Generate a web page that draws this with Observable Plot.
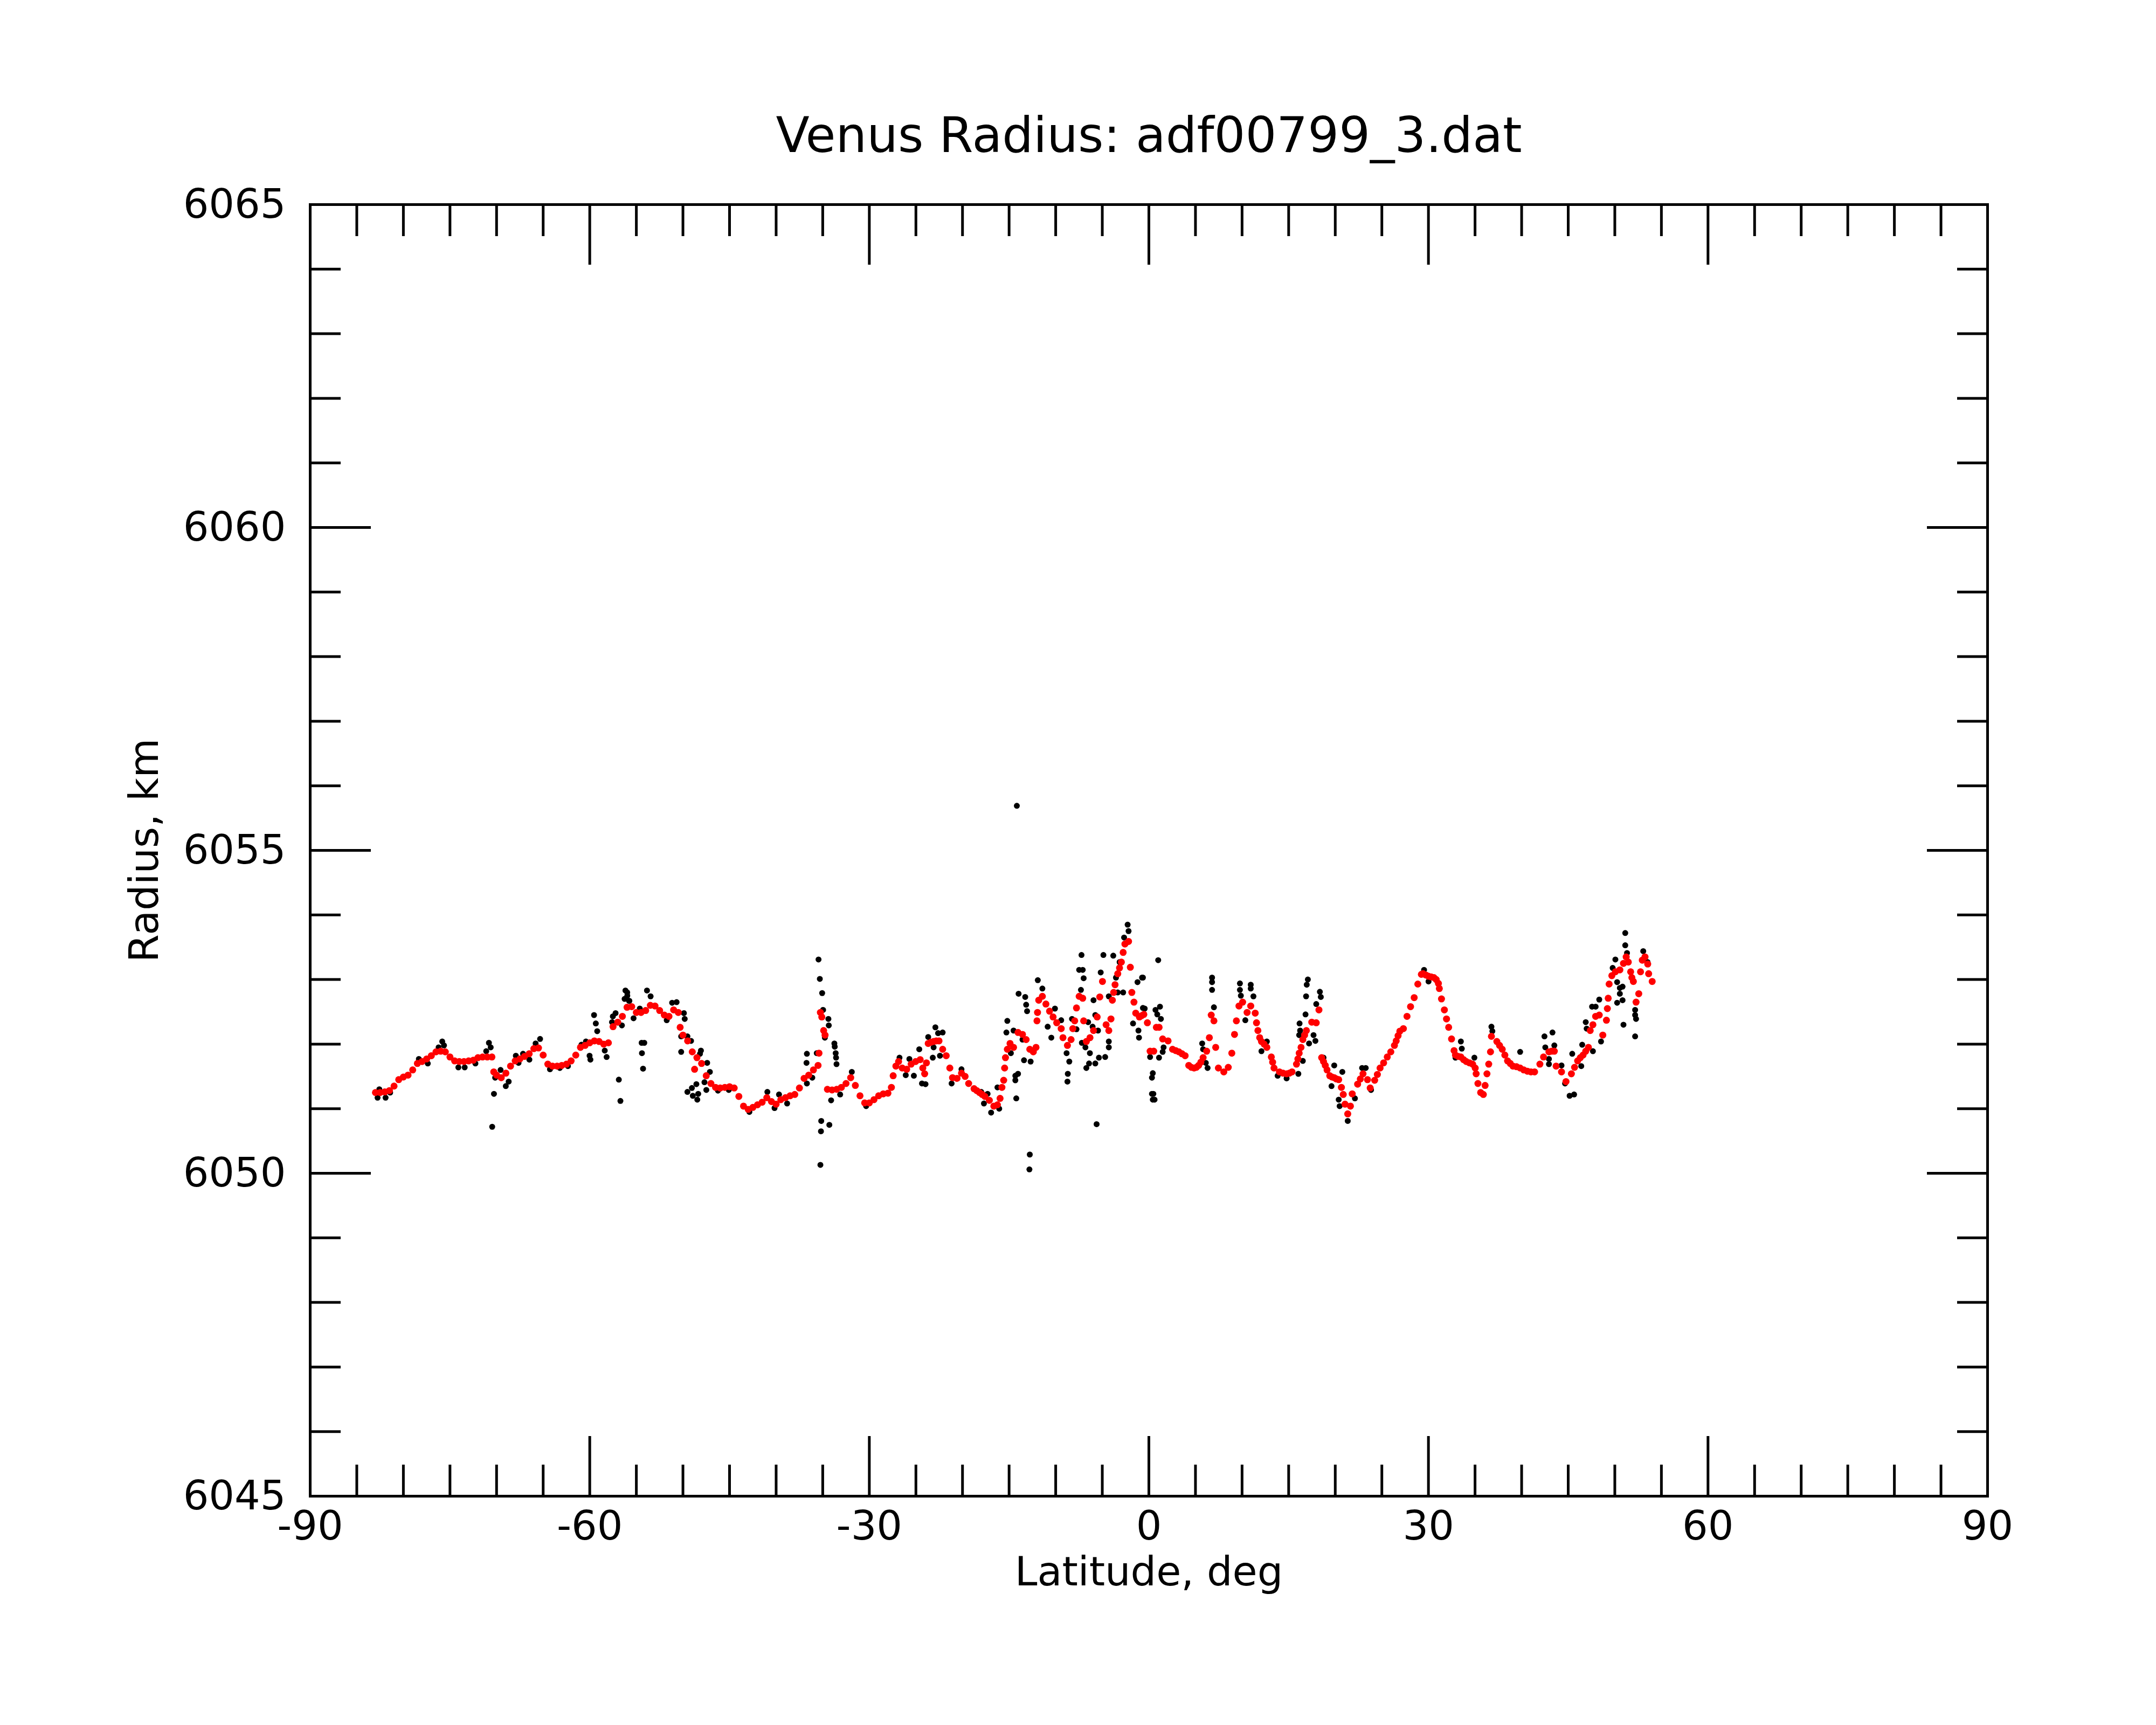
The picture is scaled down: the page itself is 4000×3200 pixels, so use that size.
<!DOCTYPE html>
<html>
<head>
<meta charset="utf-8">
<script src="https://cdn.jsdelivr.net/npm/d3@7"></script>
<script src="https://cdn.jsdelivr.net/npm/@observablehq/plot@0.6"></script>
<style>
html, body { margin: 0; padding: 0; background: #ffffff; }
</style>
</head>
<body>
<div id="chart"></div>
<script>
// ---- texts ----
const titleText = "Venus Radius: adf00799_3.dat";
const xLabelText = "Latitude, deg";
const yLabelText = "Radius, km";

// ---- ticks ----
const xMajorTicks = [-90, -60, -30, 0, 30, 60, 90];
const xMinorTicks = [-85, -80, -75, -70, -65, -55, -50, -45, -40, -35, -25, -20, -15, -10, -5,
                     5, 10, 15, 20, 25, 35, 40, 45, 50, 55, 65, 70, 75, 80, 85];
const yMajorTicks = [6045, 6050, 6055, 6060, 6065];
const yMinorTicks = [6046, 6047, 6048, 6049, 6051, 6052, 6053, 6054, 6056, 6057, 6058, 6059,
                     6061, 6062, 6063, 6064];

// ---- filtered (red) series: [latitude deg, radius km] ----
const redSeries = [
[-83.0,6051.25],[-82.5,6051.25],[-82.0,6051.26],[-81.5,6051.28],[-81.0,6051.35],[-80.5,6051.45],
[-80.0,6051.49],[-79.5,6051.52],[-79.0,6051.60],[-78.5,6051.70],[-78.0,6051.73],[-77.5,6051.77],
[-77.0,6051.82],[-76.5,6051.88],[-76.0,6051.89],[-75.5,6051.88],[-75.0,6051.80],[-74.5,6051.74],
[-74.0,6051.73],[-73.5,6051.73],[-73.0,6051.74],[-72.5,6051.75],[-72.0,6051.79],[-71.5,6051.80],
[-71.0,6051.80],[-70.5,6051.80],[-70.3,6051.57],[-70.0,6051.52],[-69.5,6051.48],[-69.0,6051.55],
[-68.5,6051.66],[-68.0,6051.74],[-67.5,6051.77],[-67.0,6051.81],[-66.5,6051.85],[-66.0,6051.93],
[-65.5,6051.94],[-65.0,6051.83],[-64.5,6051.69],[-64.0,6051.66],[-63.5,6051.66],[-63.0,6051.67],
[-62.5,6051.69],[-62.0,6051.74],[-61.5,6051.83],[-61.0,6051.95],[-60.5,6051.98],[-60.0,6052.02],
[-59.5,6052.05],[-59.0,6052.04],[-58.5,6052.00],[-58.0,6052.02],[-57.5,6052.27],[-57.0,6052.34],
[-56.5,6052.43],[-56.0,6052.57],[-55.5,6052.58],[-55.0,6052.49],[-54.5,6052.49],[-54.0,6052.52],
[-53.5,6052.60],[-53.0,6052.59],[-52.5,6052.52],[-52.0,6052.45],[-51.5,6052.43],[-51.0,6052.53],
[-50.5,6052.49],[-50.3,6052.26],[-50.0,6052.14],[-49.5,6052.05],[-49.0,6051.88],[-48.75,6051.61],
[-48.5,6051.79],[-48.0,6051.70],[-47.5,6051.51],[-47.0,6051.39],[-46.5,6051.33],[-46.0,6051.32],
[-45.5,6051.33],[-45.0,6051.34],[-44.5,6051.32],[-44.0,6051.19],[-43.5,6051.04],[-43.0,6050.99],
[-42.5,6051.02],[-42.0,6051.06],[-41.5,6051.10],[-41.0,6051.17],[-40.5,6051.11],[-40.0,6051.07],
[-39.5,6051.14],[-39.0,6051.17],[-38.5,6051.20],[-38.0,6051.22],[-37.5,6051.32],[-37.0,6051.47],
[-36.5,6051.52],[-36.0,6051.60],[-35.5,6051.67],[-35.4,6051.86],[-35.25,6052.49],[-35.1,6052.42],
[-34.9,6052.21],[-34.75,6052.14],[-34.5,6051.30],[-34.0,6051.29],[-33.5,6051.30],[-33.0,6051.33],
[-32.5,6051.39],[-32.0,6051.48],[-31.5,6051.36],[-31.0,6051.20],[-30.5,6051.09],[-30.0,6051.09],
[-29.5,6051.14],[-29.0,6051.20],[-28.5,6051.23],[-28.0,6051.24],[-27.63,6051.33],[-27.44,6051.51],
[-27.15,6051.66],[-26.86,6051.73],[-26.47,6051.63],[-25.99,6051.61],[-25.51,6051.69],[-25.03,6051.73],
[-24.54,6051.76],[-24.26,6051.63],[-24.06,6051.54],[-23.87,6051.71],[-23.68,6052.01],[-23.39,6052.03],
[-23.10,6052.04],[-22.81,6052.05],[-22.52,6052.05],[-22.13,6051.92],[-21.75,6051.82],[-21.36,6051.63],
[-21.07,6051.48],[-20.59,6051.47],[-20.11,6051.55],[-19.72,6051.50],[-19.34,6051.39],[-18.76,6051.31],
[-18.47,6051.28],[-18.18,6051.25],[-17.89,6051.22],[-17.60,6051.19],[-17.12,6051.13],[-16.64,6051.04],
[-16.25,6051.06],[-15.97,6051.16],[-15.77,6051.33],[-15.58,6051.44],[-15.48,6051.63],[-15.39,6051.79],
[-15.19,6051.92],[-14.90,6052.01],[-14.52,6051.95],[-14.04,6052.18],[-13.56,6052.15],[-13.17,6052.07],
[-12.78,6051.92],[-12.40,6051.88],[-12.11,6051.95],[-12.01,6052.36],[-11.95,6052.49],[-11.82,6052.68],
[-11.43,6052.74],[-11.05,6052.62],[-10.66,6052.51],[-10.28,6052.42],[-9.89,6052.33],[-9.41,6052.24],
[-9.22,6052.10],[-8.74,6051.98],[-8.35,6052.07],[-8.16,6052.24],[-7.96,6052.36],[-7.77,6052.56],
[-7.48,6052.74],[-7.10,6052.71],[-7.00,6052.36],[-6.71,6052.04],[-6.32,6052.10],[-5.94,6052.21],
[-5.55,6052.42],[-5.27,6052.73],[-4.98,6052.97],[-4.59,6052.30],[-4.30,6052.21],[-4.07,6052.39],
[-3.92,6052.68],[-3.78,6052.80],[-3.63,6052.92],[-3.34,6053.09],[-3.15,6053.18],[-2.95,6053.27],
[-2.76,6053.42],[-2.57,6053.55],[-2.18,6053.59],[-1.99,6053.19],[-1.83,6052.80],[-1.60,6052.65],
[-1.41,6052.48],[-1.02,6052.42],[-0.78,6052.44],[-0.54,6052.46],[-0.16,6052.33],[0.13,6051.89],
[0.52,6051.89],[0.80,6052.26],[1.10,6052.26],[1.48,6052.08],[2.06,6052.05],[2.54,6051.92],
[2.88,6051.90],[3.22,6051.88],[3.55,6051.85],[3.89,6051.82],[4.28,6051.67],[4.56,6051.64],
[4.85,6051.63],[5.10,6051.64],[5.34,6051.67],[5.58,6051.72],[5.82,6051.79],[6.20,6051.89],
[6.49,6052.10],[6.69,6052.45],[6.98,6052.36],[7.17,6051.95],[7.46,6051.63],[8.04,6051.57],
[8.52,6051.64],[8.90,6051.86],[9.19,6052.15],[9.39,6052.36],[9.67,6052.59],[10.06,6052.65],
[10.54,6052.49],[10.93,6052.59],[11.41,6052.48],[11.55,6052.33],[11.70,6052.21],[11.89,6052.10],
[12.08,6052.04],[12.37,6052.00],[12.66,6051.95],[13.14,6051.80],[13.28,6051.72],[13.43,6051.63],
[14.01,6051.57],[14.40,6051.55],[14.78,6051.54],[15.07,6051.55],[15.36,6051.57],[15.84,6051.69],
[15.99,6051.77],[16.13,6051.86],[16.33,6051.95],[16.52,6052.07],[16.71,6052.14],[16.90,6052.21],
[17.48,6052.34],[17.96,6052.33],[18.25,6052.53],[18.54,6051.79],[18.74,6051.73],[18.93,6051.67],
[19.12,6051.60],[19.41,6051.51],[19.65,6051.49],[19.89,6051.48],[20.13,6051.46],[20.37,6051.45],
[20.66,6051.33],[20.86,6051.22],[21.05,6051.07],[21.34,6050.92],[21.63,6051.04],[21.82,6051.23],
[22.40,6051.38],[22.69,6051.46],[22.98,6051.54],[23.46,6051.45],[23.75,6051.32],[24.23,6051.44],
[24.52,6051.53],[24.81,6051.63],[25.19,6051.71],[25.58,6051.80],[25.96,6051.88],[26.35,6051.98],
[26.54,6052.05],[26.74,6052.13],[26.93,6052.20],[27.31,6052.24],[27.70,6052.43],[28.08,6052.58],
[28.47,6052.72],[28.86,6052.93],[29.24,6053.08],[29.43,6053.09],[29.72,6053.07],[30.01,6053.05],
[30.30,6053.04],[30.59,6053.03],[30.83,6053.00],[31.07,6052.94],[31.17,6052.86],[31.40,6052.70],
[31.71,6052.53],[31.94,6052.39],[32.17,6052.26],[32.48,6052.08],[32.75,6051.90],[32.90,6051.83],
[33.19,6051.81],[33.48,6051.80],[33.77,6051.76],[34.06,6051.73],[34.40,6051.71],[34.74,6051.69],
[35.02,6051.63],[35.12,6051.54],[35.31,6051.39],[35.60,6051.25],[35.89,6051.22],[36.08,6051.36],
[36.28,6051.54],[36.47,6051.69],[36.66,6051.88],[36.76,6052.12],[37.34,6052.04],[37.63,6051.98],
[37.92,6051.92],[38.20,6051.83],[38.49,6051.74],[38.78,6051.70],[39.07,6051.66],[39.45,6051.65],
[39.84,6051.63],[40.23,6051.60],[40.62,6051.58],[41.00,6051.57],[41.39,6051.57],[41.96,6051.69],
[42.35,6051.80],[42.93,6051.88],[43.22,6051.89],[43.51,6051.89],[43.70,6051.66],[44.28,6051.57],
[44.76,6051.42],[45.34,6051.54],[45.68,6051.64],[46.01,6051.74],[46.30,6051.79],[46.59,6051.83],
[46.88,6051.89],[47.17,6051.95],[47.36,6052.21],[47.65,6052.30],[47.94,6052.43],[48.33,6052.45],
[48.71,6052.14],[49.10,6052.37],[49.20,6052.55],[49.29,6052.71],[49.39,6052.93],[49.68,6053.06],
[50.06,6053.12],[50.54,6053.15],[50.93,6053.25],[51.22,6053.35],[51.45,6053.27],[51.70,6053.12],
[51.83,6053.03],[51.99,6052.97],[52.28,6052.65],[52.57,6052.78],[52.76,6053.12],[52.95,6053.30],
[53.24,6053.35],[53.53,6053.24],[53.63,6053.09],[54.01,6052.97]
];

// ---- raw (black) points that show outside the red series: [latitude deg, radius km] ----
const blackSeries = [
[-82.77,6051.17],[-81.91,6051.17],[-82.58,6051.30],[-81.42,6051.25],[-78.34,6051.77],[-77.38,6051.70],
[-75.83,6052.04],[-75.64,6051.98],[-76.22,6051.95],[-74.10,6051.64],[-73.42,6051.64],[-72.27,6051.70],
[-70.82,6052.02],[-70.63,6051.95],[-71.11,6051.89],[-70.15,6051.48],[-69.57,6051.60],[-68.70,6051.42],
[-69.01,6051.35],[-70.28,6051.23],[-70.47,6050.72],[-67.93,6051.82],[-67.64,6051.71],[-67.16,6051.85],
[-66.48,6051.76],[-65.33,6052.08],[-65.81,6052.01],[-64.27,6051.61],[-63.21,6051.63],[-62.34,6051.66],
[-60.89,6051.99],[-60.41,6052.04],[-60.02,6051.82],[-59.93,6051.76],[-59.54,6052.45],[-59.35,6052.32],
[-59.20,6052.20],[-58.19,6051.80],[-58.39,6051.90],[-56.88,6051.45],[-56.71,6051.12],[-57.52,6052.43],
[-57.23,6052.48],[-57.61,6052.34],[-56.55,6052.29],[-56.17,6052.83],[-55.97,6052.75],[-56.26,6052.70],
[-55.75,6052.67],[-55.30,6052.40],[-55.98,6052.80],[-55.78,6052.67],[-54.63,6052.55],[-53.86,6052.83],
[-53.47,6052.74],[-51.74,6052.37],[-51.16,6052.64],[-50.68,6052.65],[-49.90,6052.48],[-49.81,6052.39],
[-54.43,6052.02],[-54.15,6052.02],[-54.40,6051.86],[-54.28,6051.62],[-50.19,6051.88],[-50.19,6052.12],
[-49.52,6052.12],[-49.13,6052.05],[-48.07,6051.90],[-48.17,6051.85],[-47.40,6051.71],[-47.11,6051.57],
[-49.52,6051.26],[-49.04,6051.32],[-48.56,6051.38],[-48.94,6051.20],[-48.46,6051.14],[-48.36,6051.23],
[-47.69,6051.41],[-47.49,6051.29],[-46.24,6051.28],[-45.08,6051.29],[-42.87,6050.95],[-40.94,6051.26],
[-40.17,6051.01],[-39.69,6051.22],[-38.82,6051.08],[-36.70,6051.85],[-36.74,6051.71],[-35.64,6051.86],
[-35.45,6053.31],[-35.31,6053.01],[-35.06,6052.79],[-34.96,6052.53],[-34.39,6052.39],[-34.35,6052.29],
[-34.77,6052.10],[-33.75,6052.01],[-33.71,6051.96],[-33.61,6051.86],[-33.57,6051.79],[-33.52,6051.69],
[-35.16,6050.81],[-34.29,6050.75],[-35.19,6050.65],[-35.25,6050.13],[-34.10,6051.13],[-31.88,6051.57],
[-33.13,6051.22],[-30.34,6051.04],[-36.70,6051.39],[-36.12,6051.48],
[-22.91,6052.26],[-23.68,6052.11],[-22.62,6052.17],[-22.13,6052.18],[-23.10,6051.95],[-23.19,6051.79],
[-24.64,6051.92],[-24.35,6051.39],[-23.97,6051.38],[-25.22,6051.51],[-26.09,6051.52],[-26.76,6051.79],
[-25.70,6051.77],[-22.42,6051.82],[-21.17,6051.39],[-20.11,6051.61],[-17.99,6051.26],[-17.31,6051.23],
[-17.70,6051.08],[-16.93,6050.94],[-16.25,6051.33],[-16.06,6051.00],[-15.19,6052.36],[-15.29,6052.18],
[-14.81,6051.86],[-14.52,6052.21],[-14.33,6051.51],[-14.04,6051.54],[-14.33,6051.44],[-14.23,6051.16],
[-13.98,6052.78],[-13.27,6052.73],[-13.17,6052.61],[-13.07,6052.51],[-13.56,6052.07],[-13.40,6051.75],
[-12.69,6051.73],[-12.78,6050.29],[-12.82,6050.06],[-11.92,6052.99],[-11.43,6052.86],[-10.86,6052.27],
[-10.47,6052.10],[-10.08,6052.55],[-9.41,6052.37],[-8.83,6051.86],[-8.54,6051.73],[-8.70,6051.54],
[-8.74,6051.42],[-7.77,6052.23],[-8.25,6052.39],[-7.23,6053.38],[-7.48,6053.15],[-7.10,6053.15],
[-7.00,6053.02],[-7.29,6052.84],[-5.94,6052.68],[-5.75,6052.45],[-6.52,6052.34],[-6.04,6052.27],
[-5.46,6052.21],[-7.19,6052.02],[-6.81,6051.95],[-6.33,6051.86],[-6.42,6051.70],[-6.71,6051.63],
[-5.75,6051.70],[-5.36,6051.79],[-4.69,6051.80],[-4.30,6052.04],[-4.30,6051.95],[-5.61,6050.76],
[-4.88,6053.38],[-3.82,6053.37],[-5.17,6053.11],[-4.30,6052.74],[-3.34,6052.80],[-2.76,6052.80],
[-3.14,6053.27],[-3.53,6053.03],[-2.28,6053.85],[-2.18,6053.75],[-2.66,6053.65],[-1.22,6052.96],
[-0.73,6053.03],[-1.70,6052.32],[-1.12,6052.21],[-1.06,6052.10],[-0.64,6052.56],[0.13,6051.80],
[0.33,6051.48],[0.33,6051.23],[0.42,6051.14],[-14.17,6055.69],
[1.00,6053.30],[-0.64,6053.03],[-0.45,6052.55],[0.71,6052.53],[1.19,6052.58],[0.90,6052.46],
[1.29,6052.39],[1.09,6051.79],[1.58,6051.95],[1.48,6051.88],[0.42,6051.55],[0.48,6051.23],
[0.61,6051.14],[6.78,6053.03],[6.78,6052.96],[6.78,6052.84],[6.98,6052.57],[5.72,6052.01],
[5.82,6051.92],[6.30,6051.63],[6.11,6051.71],[9.77,6052.94],[9.77,6052.84],[9.87,6052.75],
[10.93,6052.92],[10.93,6052.86],[11.22,6052.74],[10.35,6052.37],[12.08,6051.89],[12.66,6052.04],
[13.82,6051.51],[14.78,6051.47],[16.04,6051.54],[17.06,6053.00],[16.94,6052.92],[16.87,6052.74],
[16.81,6052.46],[16.17,6052.32],[16.23,6052.21],[16.13,6052.14],[17.67,6052.14],[17.87,6052.05],
[17.19,6052.01],[16.52,6051.74],[18.35,6052.81],[18.45,6052.73],[17.96,6052.62],[18.74,6051.79],
[19.89,6051.67],[20.76,6051.57],[19.60,6051.35],[20.37,6051.14],[20.47,6051.04],[21.34,6050.81],
[22.11,6051.16],[22.88,6051.63],[23.27,6051.63],[23.84,6051.29],
[29.53,6053.15],[30.01,6052.97],[33.48,6052.04],[33.58,6051.93],[32.90,6051.79],[34.93,6051.79],
[36.76,6052.27],[36.86,6052.20],[39.84,6051.88],[42.45,6052.12],[43.31,6052.18],[42.54,6051.95],
[42.93,6051.77],[42.93,6051.69],[43.51,6051.98],[44.28,6051.67],[44.66,6051.39],[45.15,6051.20],
[45.63,6051.22],[45.43,6051.85],[46.40,6051.66],[46.50,6051.99],[47.65,6051.89],[46.88,6052.34],
[46.98,6052.24],[47.56,6052.58],[47.94,6052.58],[48.33,6052.69],[48.52,6052.04],[50.06,6053.31],
[49.77,6053.18],[50.25,6052.96],[50.54,6052.87],[50.83,6052.89],[50.54,6052.78],[50.25,6052.64],
[50.83,6052.68],[50.93,6052.30],[51.12,6053.72],[51.12,6053.53],[51.31,6053.41],[52.18,6052.53],
[52.18,6052.45],[52.28,6052.39],[52.18,6052.12],[53.05,6053.44],[53.51,6053.27]
];

const redPts = redSeries.map(([lat, rad]) => ({lat, rad}));
const blackPts = blackSeries.map(([lat, rad]) => ({lat, rad}));
const fmt = d => `${d}`;

const chart = Plot.plot({
  width: 4000,
  height: 3200,
  marginLeft: 575,
  marginRight: 313,
  marginTop: 379,
  marginBottom: 425,
  style: {background: "#ffffff", color: "#000000", fontFamily: "'DejaVu Sans', sans-serif", fontSize: "75px"},
  x: {domain: [-90, 90]},
  y: {domain: [6045, 6065]},
  marks: [
    Plot.dot(blackPts, {x: "lat", y: "rad", r: 5.5, fill: "#000000"}),
    Plot.dot(redPts, {x: "lat", y: "rad", r: 6.5, fill: "#ff0000"}),
    Plot.frame({stroke: "#000000", strokeWidth: 5}),
    // inward ticks, all four sides
    Plot.axisX(xMajorTicks, {anchor: "bottom", tickSize: -111, strokeWidth: 5, fill: "none", label: null}),
    Plot.axisX(xMinorTicks, {anchor: "bottom", tickSize: -58, strokeWidth: 5, fill: "none", label: null}),
    Plot.axisX(xMajorTicks, {anchor: "top", tickSize: -111, strokeWidth: 5, fill: "none", label: null}),
    Plot.axisX(xMinorTicks, {anchor: "top", tickSize: -58, strokeWidth: 5, fill: "none", label: null}),
    Plot.axisY(yMajorTicks, {anchor: "left", tickSize: -113, strokeWidth: 5, fill: "none", label: null}),
    Plot.axisY(yMinorTicks, {anchor: "left", tickSize: -57, strokeWidth: 5, fill: "none", label: null}),
    Plot.axisY(yMajorTicks, {anchor: "right", tickSize: -113, strokeWidth: 5, fill: "none", label: null}),
    Plot.axisY(yMinorTicks, {anchor: "right", tickSize: -57, strokeWidth: 5, fill: "none", label: null}),
    // tick labels
    Plot.axisX(xMajorTicks, {anchor: "bottom", tickSize: 0, tickPadding: 27, fontSize: 75, tickFormat: fmt, label: null}),
    Plot.axisY(yMajorTicks, {anchor: "left", tickSize: 0, tickPadding: 45, fontSize: 75, tickFormat: fmt, label: null}),
    // title and axis labels
    Plot.text([titleText], {frameAnchor: "top", dy: -98, text: d => d, fontSize: 91, lineAnchor: "bottom"}),
    Plot.text([xLabelText], {frameAnchor: "bottom", dy: 165, text: d => d, fontSize: 75, lineAnchor: "bottom"}),
    Plot.text([yLabelText], {frameAnchor: "left", dx: -283, rotate: -90, text: d => d, fontSize: 75, lineAnchor: "bottom", textAnchor: "middle"})
  ]
});
document.getElementById("chart").appendChild(chart);
</script>
</body>
</html>
